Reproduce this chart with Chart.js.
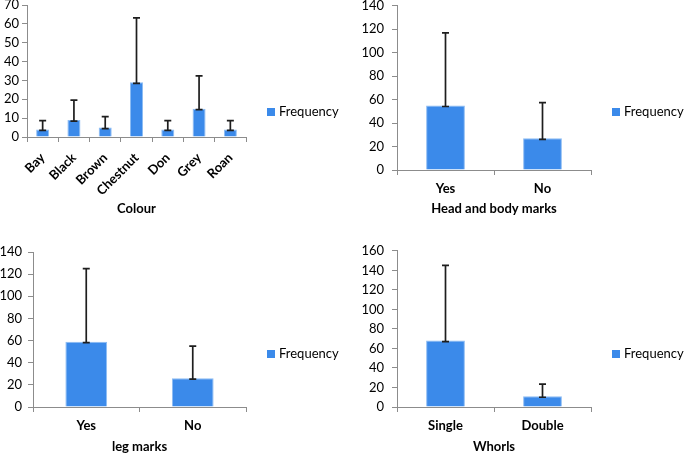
<!DOCTYPE html>
<html>
<head>
<meta charset="utf-8">
<script src="https://cdn.jsdelivr.net/npm/chart.js@4.4.1/dist/chart.umd.min.js"></script>
<style>
  html, body { margin: 0; padding: 0; background: #fff; }
  body { width: 685px; height: 454px; position: relative; overflow: hidden; }
  .panel { position: absolute; }
</style>
</head>
<body>
<div class="panel" style="left:0px;top:-9px;width:346px;height:228px"><canvas id="colourChart"></canvas></div>
<div class="panel" style="left:340px;top:-10px;width:351px;height:230px"><canvas id="headChart"></canvas></div>
<div class="panel" style="left:0px;top:238px;width:346px;height:219px"><canvas id="legChart"></canvas></div>
<div class="panel" style="left:340px;top:235px;width:351px;height:222px"><canvas id="whorlChart"></canvas></div>
<script>
// values
const colourLabels = ['Bay', 'Black', 'Brown', 'Chestnut', 'Don', 'Grey', 'Roan'];
const colourFreq = [4, 9, 5, 29, 4, 15, 4];
const colourErrTop = [8.7, 19.6, 10.8, 63.2, 8.7, 32.4, 8.7];

const headLabels = ['Yes', 'No'];
const headFreq = [55, 27];
const headErrTop = [117, 57.5];

const legLabels = ['Yes', 'No'];
const legFreq = [59, 26];
const legErrTop = [125, 55];

const whorlLabels = ['Single', 'Double'];
const whorlFreq = [68, 11];
const whorlErrTop = [145, 23.5];

Chart.defaults.font.family = "Lato, 'Open Sans', sans-serif";
Chart.defaults.color = '#000';

const axisGrey = '#8c8c8c';
const barBlue = '#3b8aea';

// error bars from the bar top up to the error value
const errorBars = {
  id: 'errorBars',
  afterDatasetsDraw(chart, args, opts) {
    const ctx = chart.ctx;
    const x = chart.scales.x, y = chart.scales.y;
    const vals = chart.data.datasets[0].data;
    ctx.save();
    ctx.strokeStyle = '#1e1e1e';
    ctx.lineWidth = 1.7;
    opts.top.forEach((t, i) => {
      const px = x.getPixelForValue(i);
      const y0 = y.getPixelForValue(vals[i]) + 1;
      const y1 = y.getPixelForValue(t);
      ctx.beginPath();
      ctx.moveTo(px, y0); ctx.lineTo(px, y1);
      ctx.moveTo(px - 3.5, y0); ctx.lineTo(px + 3.5, y0);
      ctx.moveTo(px - 3.5, y1); ctx.lineTo(px + 3.5, y1);
      ctx.stroke();
    });
    ctx.restore();
  }
};

// small legend to the right of the plot, like the Excel one
const sideLegend = {
  id: 'sideLegend',
  afterDraw(chart, args, opts) {
    const ctx = chart.ctx;
    const ds = chart.data.datasets[0];
    const lx = chart.chartArea.right + 21;
    ctx.save();
    ctx.fillStyle = ds.backgroundColor;
    ctx.fillRect(lx, opts.y - 4, 8, 8);
    ctx.fillStyle = '#000';
    ctx.font = "13px Lato, 'Open Sans', sans-serif";
    ctx.textBaseline = 'middle';
    ctx.fillText(ds.label, lx + 12, opts.y);
    ctx.restore();
  }
};

function makeChart(id, labels, freq, errTop, max, step, title, o) {
  return new Chart(document.getElementById(id), {
    type: 'bar',
    data: {
      labels: labels,
      datasets: [{
        label: 'Frequency',
        data: freq,
        backgroundColor: barBlue,
        borderColor: '#8dbcf3',
        borderWidth: 1,
        borderSkipped: 'bottom',
        categoryPercentage: 0.8,
        barPercentage: o.bar
      }]
    },
    options: {
      responsive: true,
      maintainAspectRatio: false,
      animation: false,
      layout: { padding: { top: 14, right: 100, left: 0, bottom: 0 } },
      plugins: {
        tooltip: { enabled: false },
        legend: { display: false },
        errorBars: { top: errTop },
        sideLegend: { y: o.legY }
      },
      scales: {
        x: {
          afterFit: (s) => { s.height = o.xH; },
          border: { display: true, color: axisGrey },
          grid: { display: true, drawOnChartArea: false, drawTicks: true, tickLength: 5, color: axisGrey },
          ticks: {
            font: { size: 13, weight: 'bold' },
            color: '#000',
            padding: o.tickPad,
            minRotation: o.rot,
            maxRotation: o.rot,
            autoSkip: false
          },
          title: {
            display: true,
            text: title,
            font: { size: 13, weight: 'bold' },
            color: '#000',
            padding: { top: 0, bottom: o.titlePad }
          }
        },
        y: {
          min: 0,
          max: max,
          afterFit: (s) => { s.width = o.yW; },
          border: { display: true, color: axisGrey },
          grid: { display: true, drawOnChartArea: false, drawTicks: true, tickLength: 5, color: axisGrey },
          ticks: { stepSize: step, font: { size: 13 }, color: '#000', padding: o.yPad }
        }
      }
    },
    plugins: [errorBars, sideLegend]
  });
}

makeChart('colourChart', colourLabels, colourFreq, colourErrTop, 70, 10, 'Colour',
  { bar: 0.52, xH: 82, yW: 27, yPad: 3, tickPad: 8, rot: 45, titlePad: 2, legY: 121 });
makeChart('headChart', headLabels, headFreq, headErrTop, 140, 20, 'Head and body marks',
  { bar: 0.5, xH: 50, yW: 57, yPad: 8, tickPad: 6, rot: 0, titlePad: 3, legY: 122 });
makeChart('legChart', legLabels, legFreq, legErrTop, 140, 20, 'leg marks',
  { bar: 0.49, xH: 50, yW: 33, yPad: 6, tickPad: 6, rot: 0, titlePad: 2, legY: 116 });
makeChart('whorlChart', whorlLabels, whorlFreq, whorlErrTop, 160, 20, 'Whorls',
  { bar: 0.5, xH: 50, yW: 57, yPad: 8, tickPad: 6, rot: 0, titlePad: 2, legY: 119 });
</script>
</body>
</html>
